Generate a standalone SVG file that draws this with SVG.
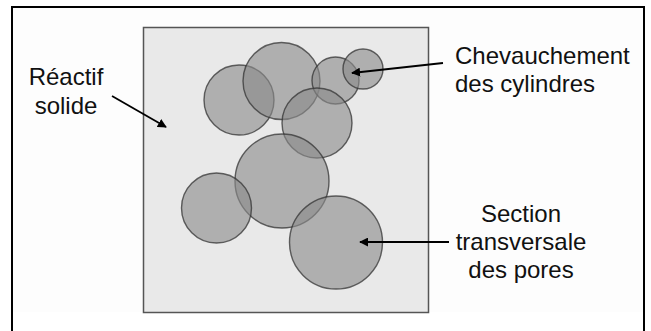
<svg xmlns="http://www.w3.org/2000/svg" width="651" height="331" viewBox="0 0 651 331">
<defs>
<style>
.t{font-family:"Liberation Sans",Arial,sans-serif;font-size:24px;fill:#111}
.c{text-anchor:middle}
.pore{fill:#8a8a8a;fill-opacity:0.62;stroke:#333;stroke-opacity:0.75;stroke-width:1.4}
.arr{stroke:#000;stroke-width:1.8;fill:none;marker-end:url(#ah)}
</style>
<marker id="ah" viewBox="0 0 10 10" refX="9" refY="5" markerWidth="5" markerHeight="5" orient="auto" markerUnits="strokeWidth">
<path d="M0,0 L10,5 L0,10 z" fill="#000"/>
</marker>
</defs>
<rect x="0" y="0" width="651" height="331" fill="#fff"/>
<g id="frame">
<rect x="12" y="7" width="632" height="305" fill="#fdfdfd"/>
<path d="M12,331 V7 H644 V331" fill="none" stroke="#000" stroke-width="2"/>
</g>
<g id="solid">
<rect x="143.5" y="27.5" width="285" height="285" fill="#e9e9e9" stroke="#555" stroke-width="1.5"/>
</g>
<g id="pores">
<circle class="pore" cx="239" cy="100" r="35"/>
<circle class="pore" cx="281.5" cy="81" r="38.5"/>
<circle class="pore" cx="335.5" cy="80.5" r="23.5"/>
<circle class="pore" cx="363" cy="69" r="20"/>
<circle class="pore" cx="317" cy="123" r="35"/>
<circle class="pore" cx="282" cy="181" r="47"/>
<circle class="pore" cx="216.5" cy="208" r="35"/>
<circle class="pore" cx="336" cy="242.5" r="46.5"/>
</g>
<g id="connectors">
<line class="arr" x1="112" y1="96" x2="166" y2="127"/>
<line class="arr" x1="443" y1="63" x2="352" y2="73"/>
<line class="arr" x1="449" y1="242" x2="360" y2="242"/>
</g>
<g id="label-reactif">
<text class="t c" x="66" y="85">Réactif</text>
<text class="t c" x="66" y="114">solide</text>
</g>
<g id="label-chevauchement">
<text class="t" x="455" y="64">Chevauchement</text>
<text class="t" x="455" y="92">des cylindres</text>
</g>
<g id="label-section">
<text class="t c" x="521" y="222">Section</text>
<text class="t c" x="521" y="250">transversale</text>
<text class="t c" x="521" y="278">des pores</text>
</g>
</svg>
